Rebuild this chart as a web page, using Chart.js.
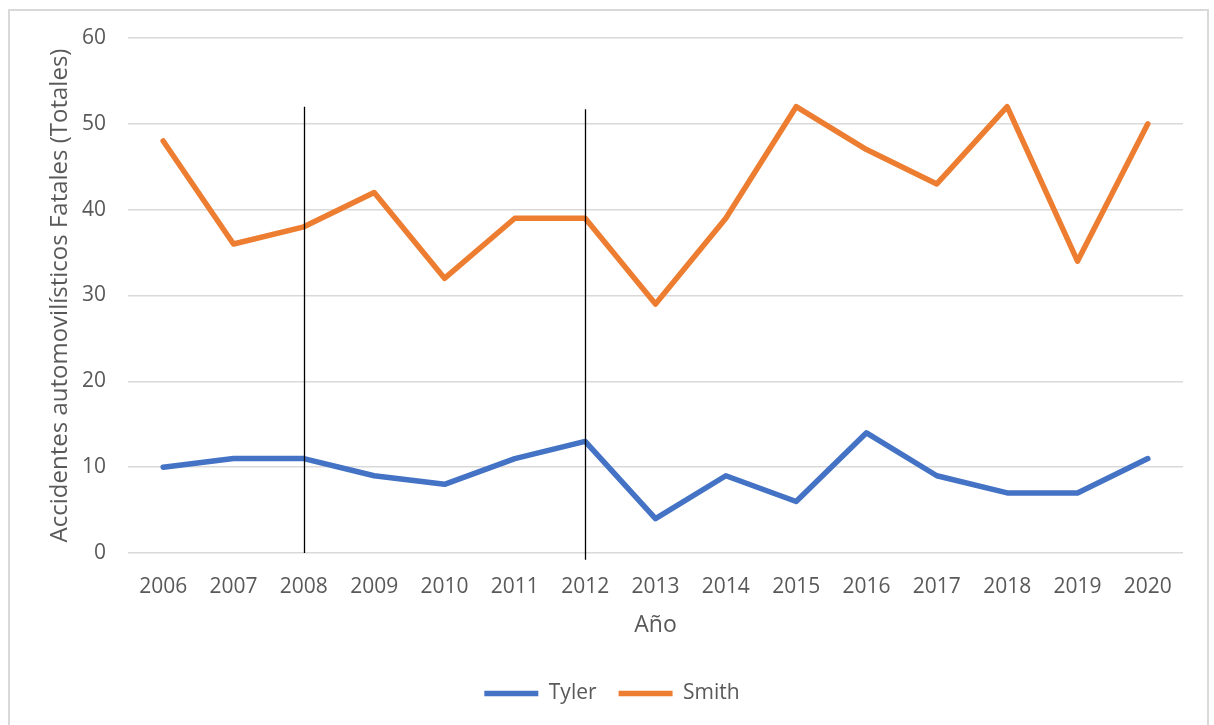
<!DOCTYPE html>
<html>
<head>
<meta charset="utf-8">
<script src="https://cdn.jsdelivr.net/npm/chart.js@4"></script>
<style>
  html, body { margin: 0; padding: 0; background: #fff; overflow: hidden; }
  #frame {
    position: absolute; left: 8px; top: 9px; width: 1201px; height: 740px;
    border: 2px solid #d9d9d9; box-sizing: border-box;
  }
  #chart { position: absolute; left: 0; top: 0; }
</style>
</head>
<body>
<div id="frame"></div>
<canvas id="chart" width="1214" height="725"></canvas>
<script>
// Accidentes automovilísticos fatales por año
const years = ['2006', '2007', '2008', '2009', '2010', '2011', '2012', '2013', '2014', '2015', '2016', '2017', '2018', '2019', '2020'];
const tyler = [10, 11, 11, 9, 8, 11, 13, 4, 9, 6, 14, 9, 7, 7, 11];
const smith = [48, 36, 38, 42, 32, 39, 39, 29, 39, 52, 47, 43, 52, 34, 50];
const yTicks = [0, 10, 20, 30, 40, 50, 60];

// vertical marker lines (year, top value, bottom value)
const markerYears = ['2008', '2012'];
const markerTop = [52, 51.7];
const markerBottom = [0, -0.8];

const textColor = '#595959';
const fontFamily = "'Open Sans', 'Noto Sans', sans-serif";

const markerLines = {
    id: 'markerLines',
    afterDatasetsDraw(chart) {
        const ctx = chart.ctx;
        const x = chart.scales.x;
        const y = chart.scales.y;
        ctx.save();
        ctx.strokeStyle = '#000';
        ctx.lineWidth = 1.3;
        markerYears.forEach((yr, i) => {
            const px = Math.round(x.getPixelForValue(years.indexOf(yr))) + 0.5;
            ctx.beginPath();
            ctx.moveTo(px, y.getPixelForValue(markerTop[i]));
            ctx.lineTo(px, y.getPixelForValue(markerBottom[i]));
            ctx.stroke();
        });
        ctx.restore();
    }
};

// center the legend on the whole canvas instead of the padded box
const legendShift = {
    id: 'legendShift',
    beforeDraw(chart) {
        const lg = chart.legend;
        const w = lg.right - lg.left;
        lg.left = (chart.width - w) / 2 + 5;
        lg.right = lg.left + w;
    }
};

new Chart(document.getElementById('chart'), {
    type: 'line',
    data: {
        labels: years,
        datasets: [{
            label: 'Tyler',
            data: tyler,
            borderColor: '#4472C4',
            backgroundColor: '#4472C4',
            borderWidth: 5.5,
            borderCapStyle: 'round',
            borderJoinStyle: 'round',
            pointRadius: 0,
            tension: 0
        }, {
            label: 'Smith',
            data: smith,
            borderColor: '#ED7D31',
            backgroundColor: '#ED7D31',
            borderWidth: 5.5,
            borderCapStyle: 'round',
            borderJoinStyle: 'round',
            pointRadius: 0,
            tension: 0
        }]
    },
    options: {
        responsive: false,
        animation: false,
        layout: {
            padding: { top: 38, right: 31, left: 0, bottom: 11 }
        },
        plugins: {
            tooltip: { enabled: false },
            legend: {
                position: 'bottom',
                labels: {
                    usePointStyle: true,
                    pointStyleWidth: 54,
                    pointStyle: 'line',
                    color: textColor,
                    font: { family: fontFamily, size: 21 },
                    padding: 22
                }
            }
        },
        scales: {
            x: {
                offset: true,
                grid: { display: false },
                border: { display: false },
                ticks: {
                    color: textColor,
                    font: { family: fontFamily, size: 21 },
                    padding: 13,
                    maxRotation: 0
                },
                title: {
                    display: true,
                    text: 'Año',
                    color: textColor,
                    font: { family: fontFamily, size: 23 },
                    padding: { top: 0, bottom: 22 }
                },
                afterFit(scale) { scale.height = 108; }
            },
            y: {
                min: 0,
                max: 60,
                afterBuildTicks(scale) { scale.ticks = yTicks.map(v => ({ value: v })); },
                grid: { color: '#d9d9d9', lineWidth: 1.5, drawTicks: false },
                border: { display: false },
                ticks: {
                    color: textColor,
                    font: { family: fontFamily, size: 21 },
                    padding: 22
                },
                title: {
                    display: true,
                    text: 'Accidentes automovilísticos Fatales (Totales)',
                    color: textColor,
                    font: { family: fontFamily, size: 24 },
                    padding: { top: 46, bottom: 0 }
                },
                afterFit(scale) { scale.width = 128; }
            }
        }
    },
    plugins: [markerLines, legendShift]
});
</script>
</body>
</html>
